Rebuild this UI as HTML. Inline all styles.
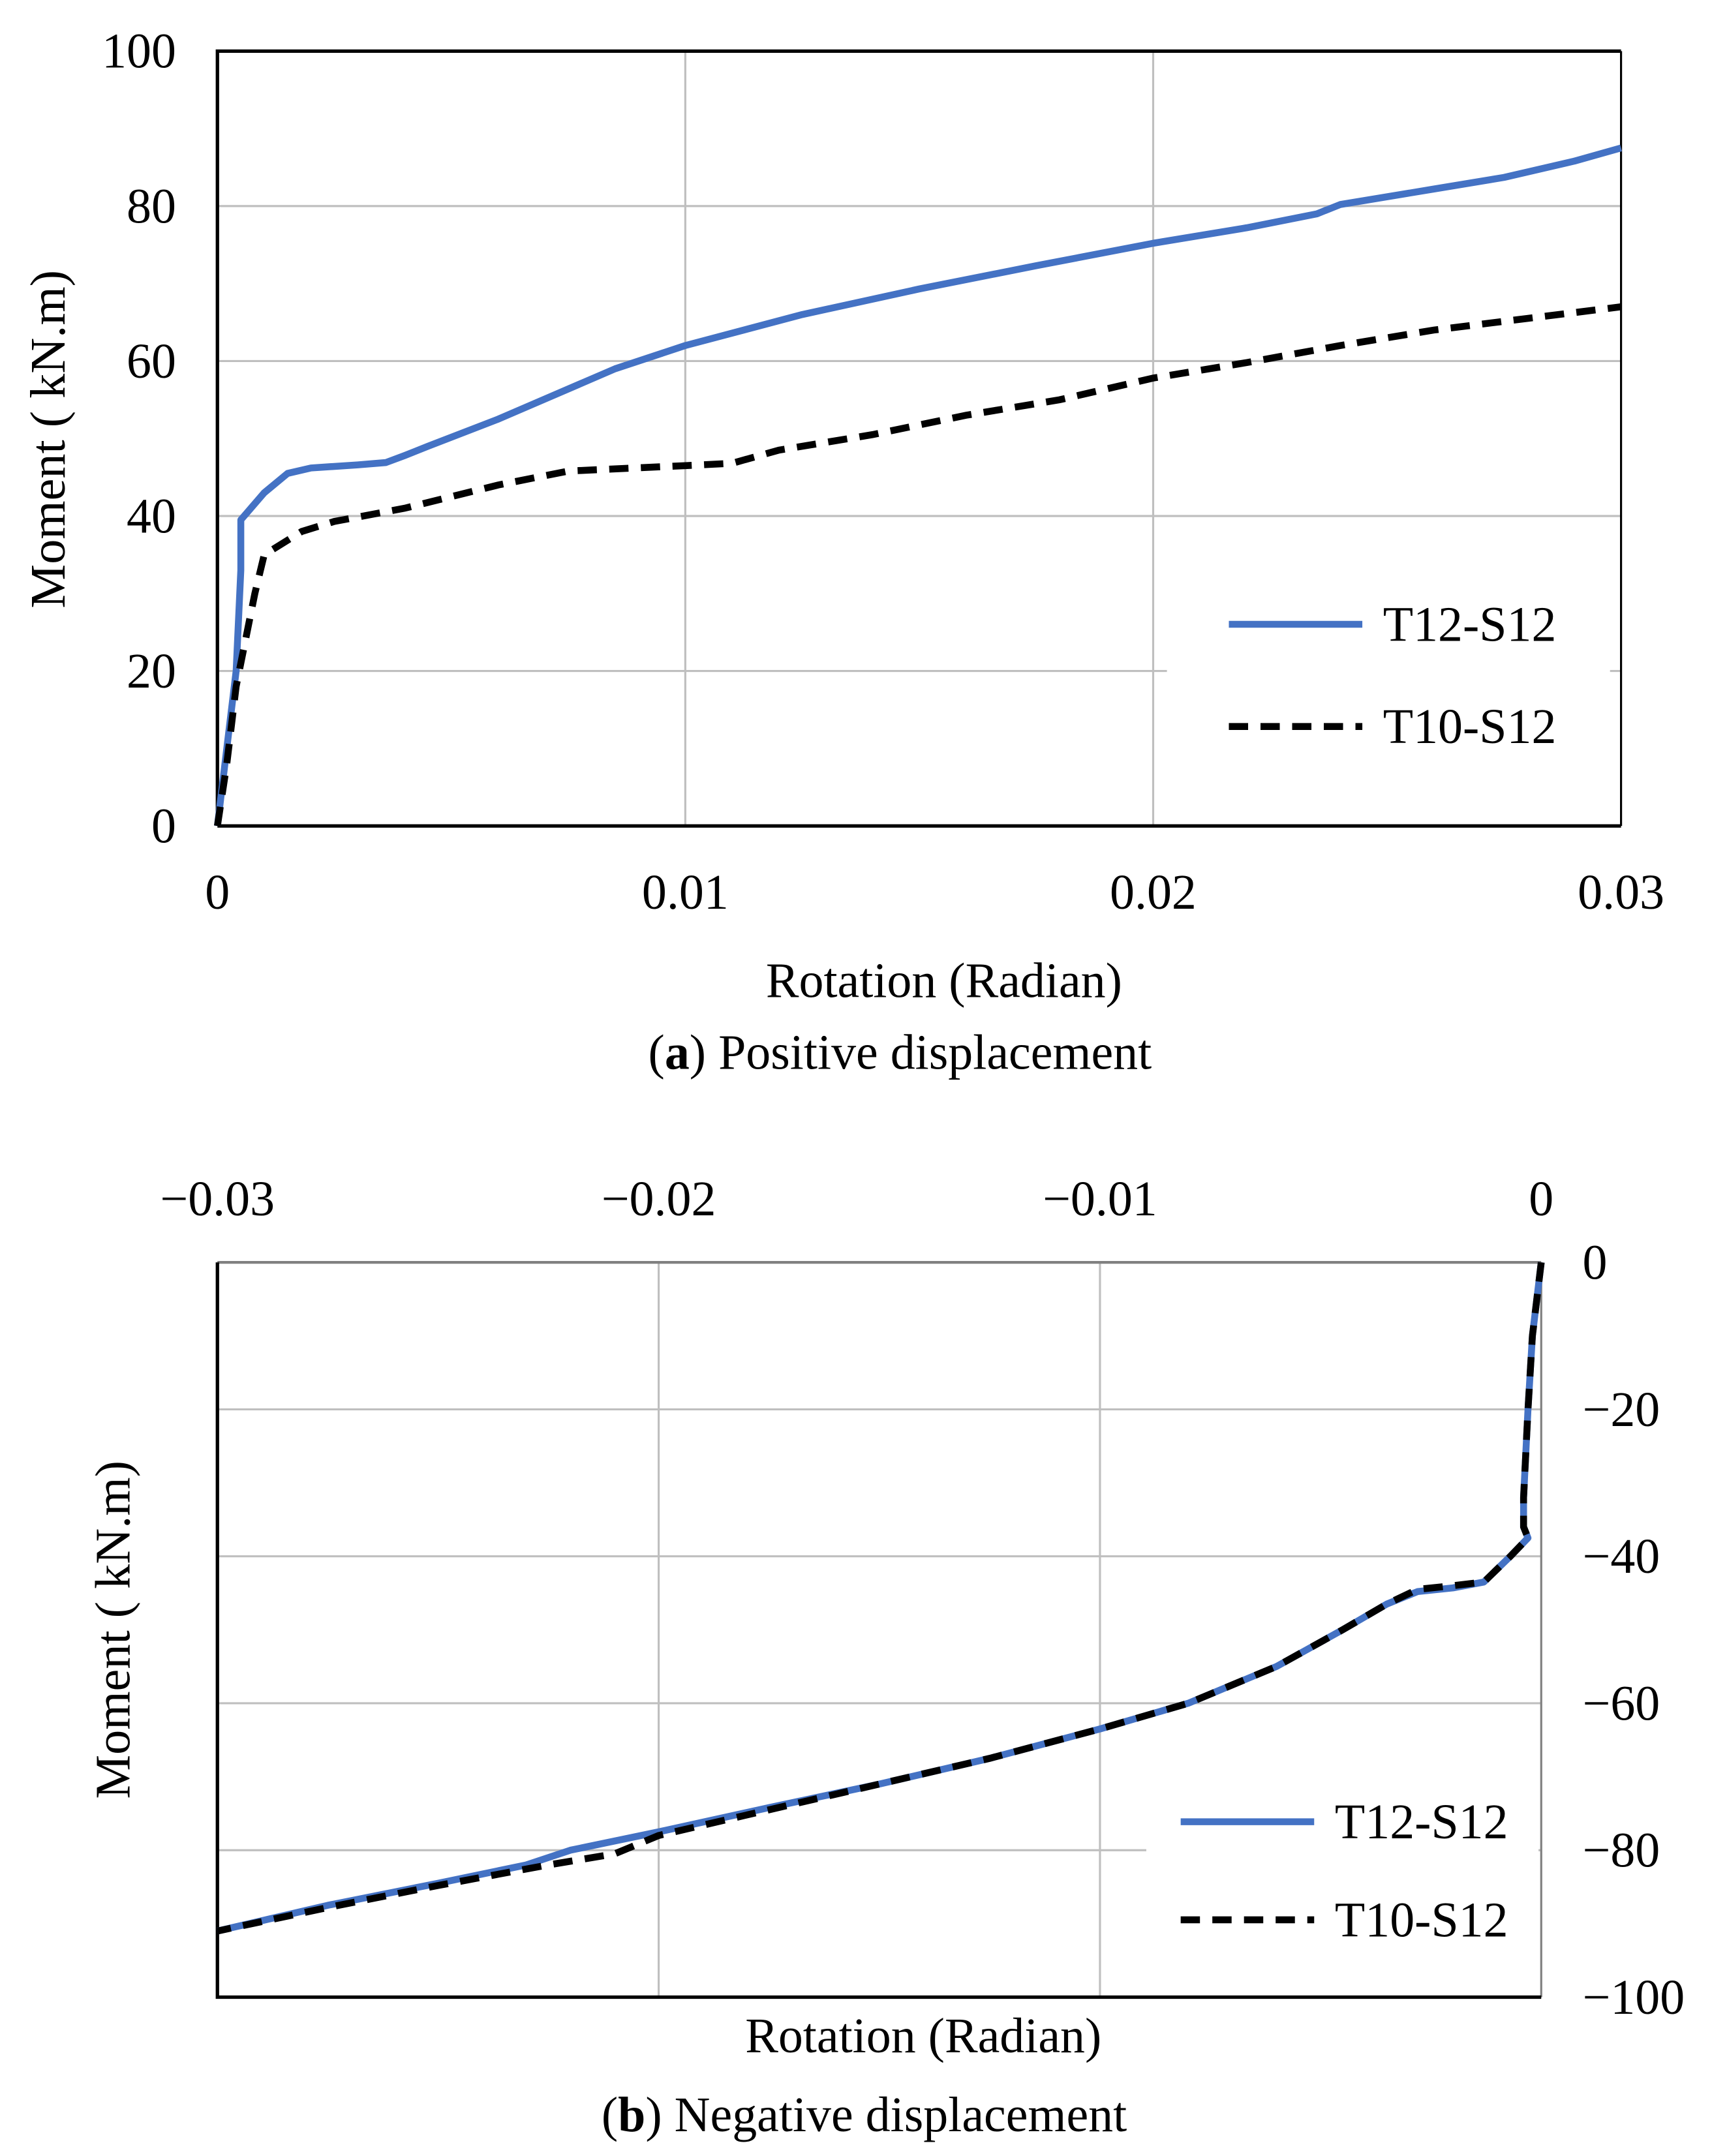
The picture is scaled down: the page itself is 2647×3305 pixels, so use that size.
<!DOCTYPE html>
<html><head><meta charset="utf-8"><style>html,body{margin:0;padding:0;background:#fff}svg{display:block}text{font-family:"Liberation Serif",serif;fill:#000}</style></head>
<body>
<svg id="fig" width="2647" height="3305" viewBox="0 0 1255 1561" preserveAspectRatio="none" xmlns="http://www.w3.org/2000/svg"></svg>
<script>
const topX=[0,0.0002,0.0004,0.0005,0.0005,0.0005,0.001,0.0015,0.002,0.003,0.0036,0.004,0.0045,0.006,0.0085,0.01,0.0125,0.015,0.0175,0.02,0.022,0.0235,0.024,0.026,0.0275,0.029,0.03];
const topT12=[0,10,20,33,37,39.5,43,45.5,46.2,46.6,46.9,47.8,49,52.5,59,62,66,69.3,72.3,75.2,77.2,79,80.2,82.2,83.7,85.8,87.5];
const topX2=[0,0.0002,0.0004,0.0008,0.001,0.0018,0.0025,0.004,0.006,0.0075,0.01,0.011,0.012,0.014,0.016,0.018,0.02,0.022,0.024,0.026,0.028,0.03];
const topT10=[0,8,18,30,35,38,39.3,41,44,45.8,46.5,46.8,48.5,50.5,53,55,57.8,59.8,62,64,65.5,67];
const botX=[0,-0.0002,-0.0003,-0.0004,-0.0004,-0.0003,-0.0007,-0.0013,-0.002,-0.0028,-0.0035,-0.0045,-0.006,-0.008,-0.01,-0.0125,-0.015,-0.0175,-0.02,-0.022,-0.023,-0.025,-0.0275,-0.03];
const botT12=[0,-10,-20,-32,-36,-37.5,-40,-43.5,-44.3,-44.8,-46.5,-50,-55,-60,-63.5,-67.5,-71,-74.2,-77.5,-80,-82,-84.5,-87.5,-91];
const botX2=[0,-0.0002,-0.0003,-0.0004,-0.0004,-0.0003,-0.0007,-0.0013,-0.002,-0.0028,-0.0035,-0.0045,-0.006,-0.008,-0.01,-0.0125,-0.015,-0.0175,-0.02,-0.021,-0.0225,-0.025,-0.0275,-0.03];
const botT10=[0,-10,-20,-32,-36,-37.5,-40,-43.5,-44,-44.5,-46.5,-50,-55,-60,-63.5,-67.5,-71,-74.5,-78,-80.5,-82,-84.8,-87.8,-91];
const topXTicks=[0,0.01,0.02,0.03], topXLabels=["0","0.01","0.02","0.03"];
const topYTicks=[0,20,40,60,80,100];
const botXTicks=[-0.03,-0.02,-0.01,0], botXLabels=["\u22120.03","\u22120.02","\u22120.01","0"];
const botYTicks=[0,-20,-40,-60,-80,-100];
const svg=document.getElementById('fig');
const NS='http://www.w3.org/2000/svg';
function mk(tag,attrs,parent){const e=document.createElementNS(NS,tag);for(const k in attrs)e.setAttribute(k,attrs[k]);(parent||svg).appendChild(e);return e;}
function txt(s,x,y,size,anchor,parent){const t=mk('text',{x:x,y:y,'font-size':size,'text-anchor':anchor||'middle'},parent);t.textContent=s;return t;}
// ---- top chart ----
const tx=v=>158+(v-0)/0.03*1020, ty=v=>598-v/100*561;
const g1=mk('g',{});


topXTicks.forEach((v,i)=>{if(i>0&&i<3){const l=mk('line',{x1:tx(v),x2:tx(v),y1:ty(0),y2:ty(100),stroke:'#bfbfbf','stroke-width':1.5},g1);}
 const t=txt(topXLabels[i],tx(v),658,36,'middle',g1);});
topYTicks.forEach(v=>{if(v>0&&v<100){const l=mk('line',{x1:tx(0),x2:tx(0.03),y1:ty(v),y2:ty(v),stroke:'#bfbfbf','stroke-width':1.5},g1);}
 const t=txt(String(v),128,ty(v)+12,36,'end',g1);});
mk('rect',{x:848,y:415,width:322,height:140,fill:'#fff'},g1);
mk('path',{d:`M${tx(0)},${ty(0)}H${tx(0.03)}M${tx(0)},${ty(0)}V${ty(100)}H${tx(0.03)}`,stroke:'#000','stroke-width':2.5,fill:'none'},g1);
mk('line',{x1:tx(0.03),x2:tx(0.03),y1:ty(0),y2:ty(100),stroke:'#000','stroke-width':1.5},g1);
let p=mk('polyline',{points:topX.map((x,i)=>tx(x)+','+ty(topT12[i])).join(' '),fill:'none',stroke:'#4472c4','stroke-width':5,'stroke-linejoin':'round'},g1);

p=mk('polyline',{points:topX2.map((x,i)=>tx(x)+','+ty(topT10[i])).join(' '),fill:'none',stroke:'#000','stroke-width':5,'stroke-dasharray':'14,9'},g1);

mk('line',{x1:893,x2:990,y1:452,y2:452,stroke:'#4472c4','stroke-width':5},g1);
let t=txt('T12-S12',1005,464,36,'start',g1);
mk('line',{x1:893,x2:990,y1:526,y2:526,stroke:'#000','stroke-width':5,'stroke-dasharray':'14,9'},g1);
t=txt('T10-S12',1005,538,36,'start',g1);
t=txt('Rotation (Radian)',686,722,36,'middle',g1);
t=mk('text',{x:0,y:0,'font-size':36,'text-anchor':'middle',transform:'translate(47,318) rotate(-90)'},g1);t.textContent='Moment ( kN.m)';
t=txt('',654,774,36,'middle',g1);t.innerHTML='(<tspan font-weight="bold">a</tspan>) Positive displacement';
// ---- bottom chart ----
const bx=v=>1120+v/0.03*962, by=v=>914+(-v)/100*532;
const g2=mk('g',{});


botXTicks.forEach((v,i)=>{if(i>0&&i<3){const l=mk('line',{x1:bx(v),x2:bx(v),y1:by(0),y2:by(-100),stroke:'#bfbfbf','stroke-width':1.5},g2);}
 const t=txt(botXLabels[i],bx(v),880,36,'middle',g2);});
botYTicks.forEach(v=>{if(v<0&&v>-100){const l=mk('line',{x1:bx(-0.03),x2:bx(0),y1:by(v),y2:by(v),stroke:'#bfbfbf','stroke-width':1.5},g2);}
 const t=txt(v===0?'0':'\u2212'+(-v),1150,by(v)+12,36,'start',g2);});
mk('rect',{x:833,y:1285,width:285,height:135,fill:'#fff'},g2);
mk('line',{x1:bx(-0.03),x2:bx(0),y1:by(0),y2:by(0),stroke:'#808080','stroke-width':2},g2);
mk('line',{x1:bx(0),x2:bx(0),y1:by(0),y2:by(-100),stroke:'#808080','stroke-width':1.5},g2);
mk('path',{d:`M${bx(-0.03)},${by(0)}V${by(-100)}H${bx(0)}`,stroke:'#000','stroke-width':2.5,fill:'none'},g2);
p=mk('polyline',{points:botX.map((x,i)=>bx(x)+','+by(botT12[i])).join(' '),fill:'none',stroke:'#4472c4','stroke-width':5,'stroke-linejoin':'round'},g2);

p=mk('polyline',{points:botX2.map((x,i)=>bx(x)+','+by(botT10[i])).join(' '),fill:'none',stroke:'#000','stroke-width':5,'stroke-dasharray':'14,9'},g2);

mk('line',{x1:858,x2:955,y1:1319,y2:1319,stroke:'#4472c4','stroke-width':5},g2);
t=txt('T12-S12',970,1331,36,'start',g2);
mk('line',{x1:858,x2:955,y1:1390,y2:1390,stroke:'#000','stroke-width':5,'stroke-dasharray':'14,9'},g2);
t=txt('T10-S12',970,1402,36,'start',g2);
t=txt('Rotation (Radian)',671,1486,36,'middle',g2);
t=mk('text',{x:0,y:0,'font-size':36,'text-anchor':'middle',transform:'translate(94,1180) rotate(-90)'},g2);t.textContent='Moment ( kN.m)';
t=txt('',628,1543,36,'middle',g2);t.innerHTML='(<tspan font-weight="bold">b</tspan>) Negative displacement';
</script>
</body></html>
